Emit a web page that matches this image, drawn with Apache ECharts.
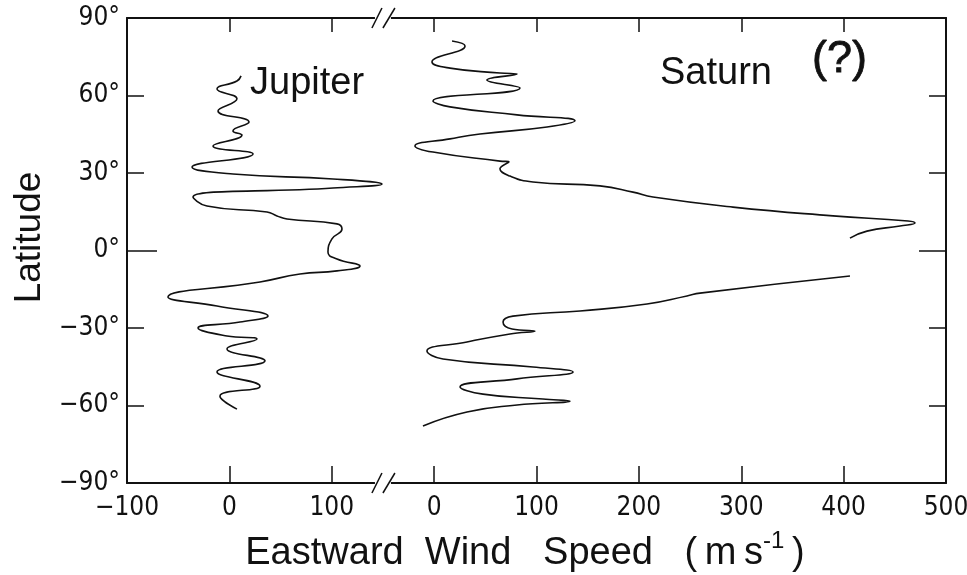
<!DOCTYPE html>
<html>
<head>
<meta charset="utf-8">
<script src="https://cdn.jsdelivr.net/npm/echarts@6/dist/echarts.min.js"></script>
<style>
  html, body { margin: 0; padding: 0; background: #fff; }
  #chart { width: 967px; height: 575px; }
</style>
</head>
<body>
<div id="chart"></div>
<script>
// Zonal wind profiles (eastward wind speed vs. latitude)
const jupiterLat  = [67.6, 65.6, 62.5, 58.7, 54.0, 49.7, 46.3, 44.7, 40.5, 37.4, 32.3, 29.6, 27.7, 25.7, 24.2, 20.7, 17.2, 14.9, 13.4, 12.2, 10.3, 8.3, 4.5, -0.6, -3.3, -6.0, -7.9, -9.1, -12.2, -18.0, -21.5, -25.4, -27.7, -30.0, -33.1, -34.3, -38.1, -42.7, -47.0, -52.5, -56.4, -61.4];
const jupiterWind = [11.4, 7.4, -12.1, 7.4, -11.1, 19.2, 3.5, 12.3, -16.0, 23.1, -36.5, 3.5, 101.2, 149.1, 101.2, -35.5, -21.9, 36.8, 46.5, 56.3, 105.1, 110.0, 100.2, 96.3, 105.1, 127.6, 105.1, 69.0, 29.9, -60.0, -12.1, 37.7, 10.4, -30.6, -2.3, 27.0, -2.3, 34.8, -12.1, 29.9, -9.2, 7.4];

const saturnNorthLat  = [81.1, 79.2, 73.0, 70.6, 68.7, 68.3, 66.0, 62.9, 57.9, 55.6, 52.5, 50.2, 47.8, 45.1, 43.2, 40.5, 38.1, 34.6, 34.3, 31.6, 28.8, 26.5, 25.0, 22.6, 20.7, 16.8, 13.4, 11.4, 10.6, 9.5, 7.5, 4.8];
const saturnNorthWind = [17.5, 30.2, -2.1, 15.5, 64.3, 81.0, 51.6, 83.9, -1.1, 15.5, 81.0, 137.6, 110.3, 44.8, 15.5, -18.7, -1.1, 64.3, 73.1, 64.3, 74.1, 96.6, 162.0, 194.3, 213.8, 291.9, 389.6, 462.9, 469.7, 455.1, 422.8, 406.2];

const saturnSouthLat  = [-9.9, -16.5, -17.6, -20.7, -23.4, -25.4, -27.7, -30.4, -31.2, -32.3, -35.4, -38.9, -42.0, -45.1, -47.0, -49.7, -52.8, -55.6, -57.5, -58.3, -59.8, -62.5, -67.9];
const saturnSouthWind = [406.2, 259.7, 247.0, 207.9, 142.5, 77.0, 67.3, 76.1, 98.5, 74.1, 32.1, -7.0, 8.7, 96.6, 135.7, 81.0, 25.3, 47.7, 106.3, 132.7, 81.0, 32.1, -10.9];

// Tick values
const jupiterTickLabels = [-100, 0, 100];
const jupiterTickMarks  = [0, 100];
const saturnTickLabels  = [0, 100, 200, 300, 400, 500];
const saturnTickMarks   = [0, 100, 200, 300, 400];
const latTickMarks      = [-60, -30, 30, 60];
const equatorTick       = [0];

// Jupiter scale value where the axis is broken
const breakAt = 150;

const pairs = (xs, ys) => xs.map((x, i) => [x, ys[i]]);
const minus = v => String(v).replace('-', '\u2212');

const tickFont = '"Liberation Sans Narrow", "DejaVu Sans Condensed", "Liberation Sans", sans-serif';
const textFont = '"Liberation Sans", Arial, sans-serif';
const ink = '#111';
const tickLine = { color: ink, width: 1.5 };
const frameLine = { color: ink, width: 2 };

const chart = echarts.init(document.getElementById('chart'), null, { renderer: 'canvas' });

const option = {
  animation: false,
  backgroundColor: '#fff',
  grid: { left: 127, right: 21, top: 18, bottom: 92, containLabel: false, outerBoundsMode: 'none' },
  xAxis: [
    // Jupiter scale (bottom)
    {
      type: 'value', min: -100, max: 700, interval: 100, position: 'bottom',
      splitLine: { show: false },
      axisLine: { show: true, onZero: false, lineStyle: frameLine },
      axisTick: { show: true, inside: true, length: 17, customValues: jupiterTickMarks, lineStyle: tickLine },
      axisLabel: { show: true, customValues: jupiterTickLabels, formatter: minus, color: ink, fontFamily: tickFont, fontSize: 26, margin: 12 }
    },
    // Saturn scale (bottom)
    {
      type: 'value', min: -300, max: 500, interval: 100, position: 'bottom',
      splitLine: { show: false },
      axisLine: { show: false, onZero: false },
      axisTick: { show: true, inside: true, length: 17, customValues: saturnTickMarks, lineStyle: tickLine },
      axisLabel: { show: true, customValues: saturnTickLabels, formatter: minus, color: ink, fontFamily: tickFont, fontSize: 26, margin: 12 },
      name: '{t|Eastward  Wind   Speed   (\u2009m\u2009s}{sup|-1}{t|\u2009)}',
      nameLocation: 'middle',
      nameGap: 46,
      nameTextStyle: {
        padding: [0, 23, 0, 0],
        rich: {
          t: { fontFamily: textFont, fontSize: 38, color: ink },
          sup: { fontFamily: textFont, fontSize: 24, color: ink, padding: [0, 0, 25, 0] }
        }
      }
    },
    // Jupiter scale (top frame)
    {
      type: 'value', min: -100, max: 700, interval: 100, position: 'top',
      splitLine: { show: false }, axisLabel: { show: false },
      axisLine: { show: true, onZero: false, lineStyle: frameLine },
      axisTick: { show: true, inside: true, length: 14, customValues: jupiterTickMarks, lineStyle: tickLine }
    },
    // Saturn scale (top frame)
    {
      type: 'value', min: -300, max: 500, interval: 100, position: 'top',
      splitLine: { show: false }, axisLabel: { show: false },
      axisLine: { show: false, onZero: false },
      axisTick: { show: true, inside: true, length: 14, customValues: saturnTickMarks, lineStyle: tickLine }
    }
  ],
  yAxis: [
    {
      type: 'value', min: -90, max: 90, interval: 30, position: 'left',
      splitLine: { show: false },
      axisLine: { show: true, onZero: false, lineStyle: frameLine },
      axisTick: { show: true, inside: true, length: 17, customValues: latTickMarks, lineStyle: tickLine },
      axisLabel: { color: ink, fontFamily: tickFont, fontSize: 26, margin: 7, formatter: v => minus(v) + '\u00b0' },
      name: 'Latitude',
      nameLocation: 'middle',
      nameRotate: 90,
      nameGap: 78,
      nameTextStyle: { fontFamily: textFont, fontSize: 37, color: ink, padding: [0, 0, 0, 26] }
    },
    {
      type: 'value', min: -90, max: 90, interval: 30, position: 'right',
      splitLine: { show: false },
      axisLine: { show: true, onZero: false, lineStyle: frameLine },
      axisTick: { show: true, inside: true, length: 17, customValues: latTickMarks, lineStyle: tickLine },
      axisLabel: { show: false }
    },
    {
      type: 'value', min: -90, max: 90, interval: 30, position: 'left',
      splitLine: { show: false }, axisLine: { show: false, onZero: false }, axisLabel: { show: false },
      axisTick: { show: true, inside: true, length: 30, customValues: equatorTick, lineStyle: tickLine }
    },
    {
      type: 'value', min: -90, max: 90, interval: 30, position: 'right',
      splitLine: { show: false }, axisLine: { show: false, onZero: false }, axisLabel: { show: false },
      axisTick: { show: true, inside: true, length: 27, customValues: equatorTick, lineStyle: tickLine }
    }
  ],
  series: [
    {
      name: 'Jupiter', type: 'line', xAxisIndex: 0, yAxisIndex: 0,
      data: pairs(jupiterWind, jupiterLat),
      smooth: 0.5, showSymbol: false,
      lineStyle: { color: ink, width: 1.6 }
    },
    {
      name: 'Saturn', type: 'line', xAxisIndex: 1, yAxisIndex: 0,
      data: pairs(saturnNorthWind, saturnNorthLat),
      smooth: 0.5, showSymbol: false,
      lineStyle: { color: ink, width: 1.6 }
    },
    {
      name: 'Saturn', type: 'line', xAxisIndex: 1, yAxisIndex: 0,
      data: pairs(saturnSouthWind, saturnSouthLat),
      smooth: 0.5, showSymbol: false,
      lineStyle: { color: ink, width: 1.6 }
    }
  ]
};

chart.setOption(option);

// Axis-break marks on the top and bottom frame, placed from the Jupiter scale
const bx = chart.convertToPixel({ xAxisIndex: 0 }, breakAt);
const yTop = chart.convertToPixel({ yAxisIndex: 0 }, 90);
const yBot = chart.convertToPixel({ yAxisIndex: 0 }, -90);
function breakMark(y) {
  return [
    { type: 'rect', z: 100, shape: { x: bx - 8, y: y - 3, width: 16, height: 6 }, style: { fill: '#fff' } },
    { type: 'line', z: 101, shape: { x1: bx - 11, y1: y + 10, x2: bx - 1, y2: y - 10 }, style: { stroke: ink, lineWidth: 1.5 } },
    { type: 'line', z: 101, shape: { x1: bx, y1: y + 10, x2: bx + 12, y2: y - 10 }, style: { stroke: ink, lineWidth: 1.5 } }
  ];
}

chart.setOption({
  graphic: [].concat(
    breakMark(yTop),
    breakMark(yBot),
    [
      { type: 'text', z: 102, x: 250, y: 103, style: { text: 'Jupiter', font: '38px ' + textFont, fill: ink, verticalAlign: 'bottom' } },
      { type: 'text', z: 102, x: 660, y: 93, style: { text: 'Saturn', font: '38px ' + textFont, fill: ink, verticalAlign: 'bottom' } },
      { type: 'text', z: 102, x: 812, y: 82, style: { text: '(?)', font: '45px ' + textFont, fill: ink, verticalAlign: 'bottom', stroke: ink, lineWidth: 0.8 } }
    ]
  )
});
</script>
</body>
</html>
